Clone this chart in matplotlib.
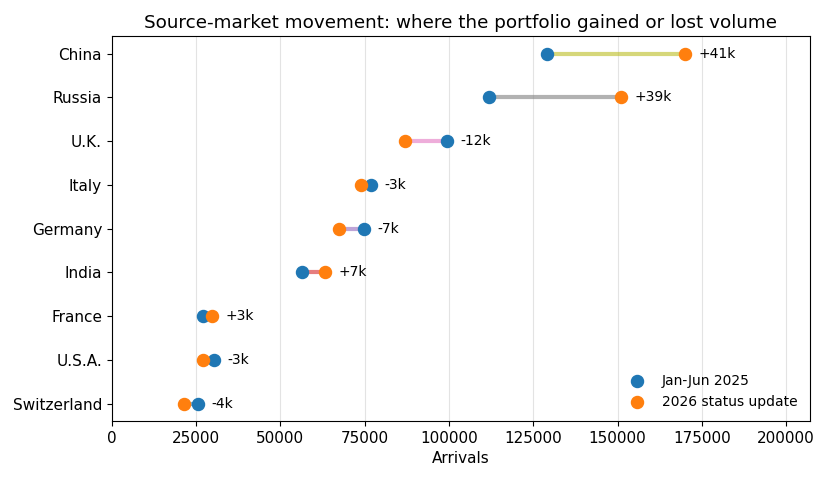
import matplotlib
matplotlib.use("Agg")
import matplotlib.pyplot as plt

countries = ["Switzerland", "U.S.A.", "France", "India", "Germany", "Italy", "U.K.", "Russia", "China"]
jan_jun_2025 = [25600, 30300, 27000, 56300, 74700, 76900, 99300, 112000, 129000]
status_2026 = [21500, 27200, 29800, 63300, 67500, 74000, 87000, 151000, 170000]

fig, ax = plt.subplots(figsize=(8.28, 4.83), dpi=100)
ypos = list(range(len(countries)))
for i, (a, b) in enumerate(zip(jan_jun_2025, status_2026)):
    ax.plot([a, b], [i, i], color=f"C{i}", alpha=0.6, lw=3, zorder=1)
    d = b - a
    ax.text(max(a, b) + 4000, i, f"{d/1000:+.0f}k", va="center", ha="left", fontsize=10)
ax.scatter(jan_jun_2025, ypos, s=75, color="C0", label="Jan-Jun 2025", zorder=3)
ax.scatter(status_2026, ypos, s=75, color="C1", label="2026 status update", zorder=3)
ax.set_yticks(ypos)
ax.set_yticklabels(countries, fontsize=11)
ax.tick_params(axis="x", labelsize=11)
ax.set_xlim(0, 207000)
ax.grid(axis="x", color="#dddddd", lw=0.8, alpha=0.8)
ax.set_axisbelow(True)
ax.set_xlabel("Arrivals", fontsize=11)
ax.set_title("Source-market movement: where the portfolio gained or lost volume", fontsize=13.2)
ax.legend(loc="lower right", frameon=False, fontsize=10)
fig.subplots_adjust(left=0.135, right=0.978, top=0.925, bottom=0.128)
fig.savefig("out.png")
